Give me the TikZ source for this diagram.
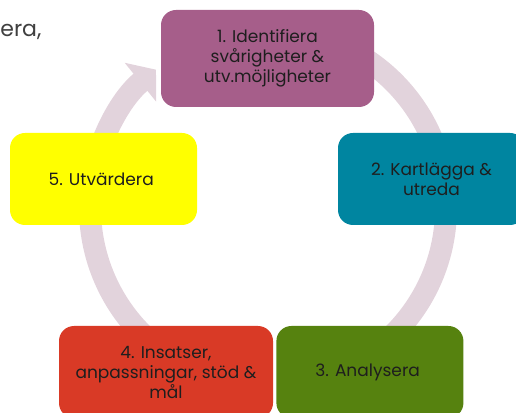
\documentclass[tikz,border=0pt]{standalone}
\usepackage{fontspec}
\setmainfont{Poppins}
\usetikzlibrary{
	arrows.meta,
	positioning
}

\definecolor{ringpink}{RGB}{226,211,220}
\definecolor{stagepurple}{RGB}{166,94,138}
\definecolor{stageteal}{RGB}{0,133,160}
\definecolor{stagegreen}{RGB}{86,130,15}
\definecolor{stagered}{RGB}{217,58,38}
\definecolor{stageyellow}{RGB}{255,255,0}
\definecolor{stagetext}{RGB}{30,30,30}

\begin{document}
\begin{tikzpicture} [
		x = 1pt,
		y = 1pt,
		stage/.style = {
			rectangle,
			rounded corners = 15pt,
			text = stagetext,
			align = center,
			font = \fontsize{17}{20}\selectfont,
			minimum width = 187pt,
			minimum height = 92pt,
			inner sep = 0pt,
		},
		ring/.style = {
			draw = ringpink,
			line width = 22pt,
		},
		ring-tip/.style = {
			-{Triangle[length = 20pt, width = 49pt]},
		},
		identify/.style = {
			fill = stagepurple,
			minimum width = 213pt,
			minimum height = 97pt,
		},
		survey/.style = {
			fill = stageteal,
		},
		analyse/.style = {
			fill = stagegreen,
		},
		measures/.style = {
			fill = stagered,
			minimum width = 214pt,
		},
		evaluate/.style = {
			fill = stageyellow,
		}
	]

	\useasboundingbox (0,0) rectangle (516,412);
	\coordinate (ctr) at (268,204);

	\node[anchor = base east, text = black!75, font = \fontsize{22}{26}\selectfont]
		(cut) at (45,375) {era,};

	% ring behind the stages
	\begin{scope} [
			every path/.style = ring
		]
		\draw[ring-tip] ([shift = {(170:178)}]ctr)
			arc[start angle = 170, end angle = 129, radius = 178];
		\draw ([shift = {(80:178)}]ctr)
			arc[start angle = 80, end angle = 15, radius = 178];
		\draw ([shift = {(5:178)}]ctr)
			arc[start angle = 5, end angle = -60, radius = 178];
		\draw ([shift = {(230:178)}]ctr)
			arc[start angle = 230, end angle = 180, radius = 178];
	\end{scope}

	\node[stage, identify] (s1) at (267.5,353.5) {
		1. Identifiera\\ svårigheter \&\\ utv.möjligheter
	};
	\node[stage, survey] (s2) at (431.5,233) {
		2. Kartlägga \&\\ utreda
	};
	\node[stage, measures] (s4) at (166,40) {
		4. Insatser,\\ anpassningar, stöd \&\\ mål
	};
	\node[stage, analyse, right = 3pt of s4] (s3) {
		3. Analysera
	};
	\node[stage, evaluate] (s5) at (103.5,233) {
		5. Utvärdera
	};
\end{tikzpicture}
\end{document}
